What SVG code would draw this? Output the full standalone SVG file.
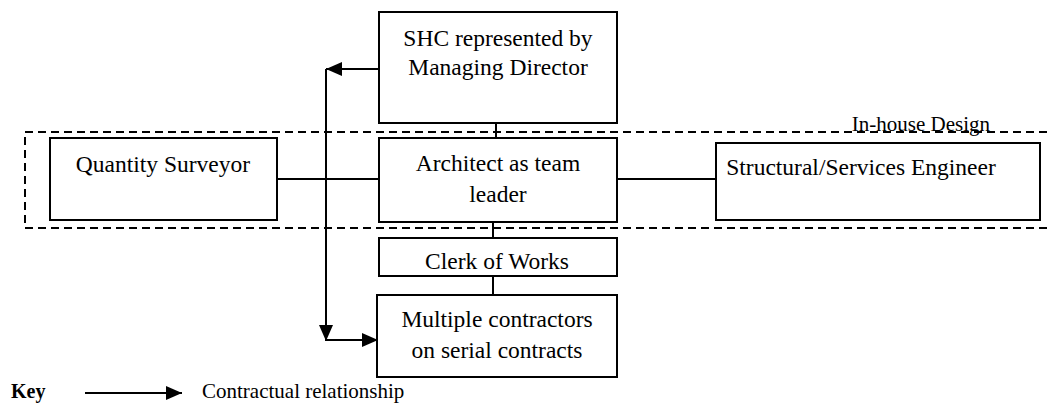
<svg xmlns="http://www.w3.org/2000/svg" width="1047" height="410" viewBox="0 0 1047 410">
<defs>
<style>
.box{fill:#fff;stroke:#000;stroke-width:2}
.ln{fill:none;stroke:#000;stroke-width:2}
.dash{fill:none;stroke:#000;stroke-width:2;stroke-dasharray:8 5}
.t{font-size:23.5px;text-anchor:middle}
.s{font-size:21px}
</style>
<marker id="ah" viewBox="0 0 16 14" refX="16" refY="7" markerWidth="16" markerHeight="14" markerUnits="userSpaceOnUse" orient="auto">
<path d="M0,0 L16,7 L0,14 Z" fill="#000"/>
</marker>
</defs>
<path class="dash" d="M1047,132 H25 V228 H1047"/>
<g font-family="'Liberation Serif', 'DejaVu Serif', serif" fill="#000">
<text class="s" x="990" y="131" text-anchor="end">In-house Design</text>
</g>
<g id="connectors">
<line class="ln" x1="496" y1="123" x2="496" y2="138"/>
<line class="ln" x1="277" y1="179" x2="379" y2="179"/>
<line class="ln" x1="617" y1="179" x2="716" y2="179"/>
<line class="ln" x1="493" y1="222" x2="493" y2="238"/>
<line class="ln" x1="493" y1="276" x2="493" y2="295"/>
<line class="ln" x1="379" y1="69" x2="326" y2="69" marker-end="url(#ah)"/>
<line class="ln" x1="326" y1="69" x2="326" y2="341" marker-end="url(#ah)"/>
<line class="ln" x1="326" y1="340" x2="378" y2="340" marker-end="url(#ah)"/>
</g>
<g font-family="'Liberation Serif', 'DejaVu Serif', serif" fill="#000">
<g id="shc">
<rect class="box" x="379" y="12" width="238" height="111"/>
<text class="t" x="498" y="46">SHC represented by</text>
<text class="t" x="498" y="75">Managing Director</text>
</g>
<g id="qs">
<rect class="box" x="50" y="138" width="227" height="82"/>
<text class="t" x="163" y="172">Quantity Surveyor</text>
</g>
<g id="architect">
<rect class="box" x="379" y="138" width="238" height="84"/>
<text class="t" x="498" y="171">Architect as team</text>
<text class="t" x="498" y="202">leader</text>
</g>
<g id="engineer">
<rect class="box" x="716" y="143" width="324" height="77"/>
<text class="t" x="861" y="175">Structural/Services Engineer</text>
</g>
<g id="clerk">
<rect class="box" x="379" y="238" width="238" height="38"/>
<text class="t" x="497" y="269">Clerk of Works</text>
</g>
<g id="contractors">
<rect class="box" x="377" y="295" width="240" height="82"/>
<text class="t" x="497" y="327">Multiple contractors</text>
<text class="t" x="497" y="358">on serial contracts</text>
</g>
<g id="key">
<text x="11" y="398" font-size="20" font-weight="bold">Key</text>
<line class="ln" x1="85" y1="393" x2="182" y2="393" marker-end="url(#ah)"/>
<text class="s" x="202" y="398">Contractual relationship</text>
</g>
</g>
</svg>
